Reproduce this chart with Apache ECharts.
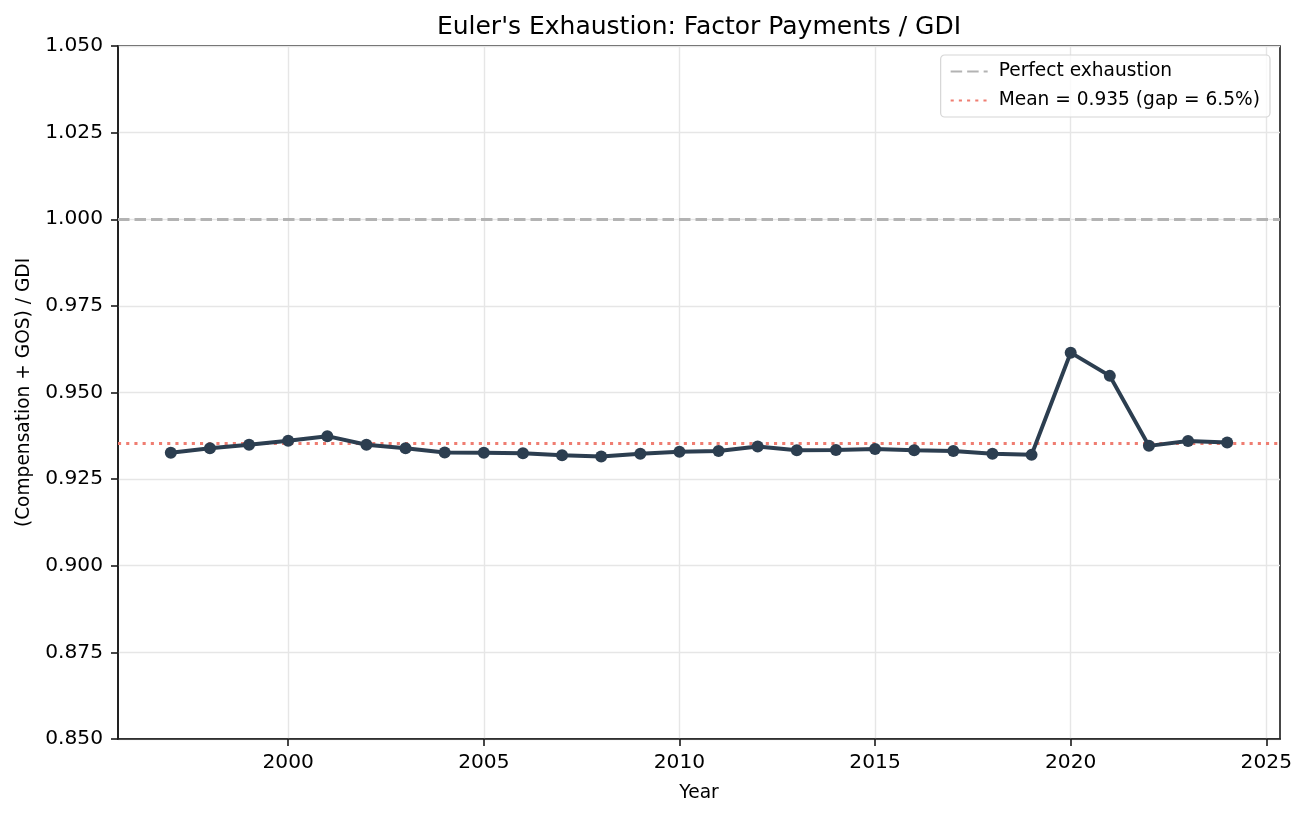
<!DOCTYPE html>
<html>
<head>
<meta charset="utf-8">
<script src="https://cdn.jsdelivr.net/npm/echarts@6/dist/echarts.min.js"></script>
<style>
  html, body { margin: 0; padding: 0; background: #fff; }
  #chart { width: 1307px; height: 817px; }
</style>
</head>
<body>
<div id="chart"></div>
<script>
// data
var years = [1997, 1998, 1999, 2000, 2001, 2002, 2003, 2004, 2005, 2006,
  2007, 2008, 2009, 2010, 2011, 2012, 2013, 2014, 2015, 2016,
  2017, 2018, 2019, 2020, 2021, 2022, 2023, 2024];
var ratio = [0.9326, 0.9339, 0.9349, 0.9361, 0.9374, 0.9349, 0.9339, 0.9327, 0.9326, 0.9325,
  0.9319, 0.9315, 0.9323, 0.9329, 0.9331, 0.9344, 0.9333, 0.9334, 0.9337, 0.9333,
  0.9331, 0.9323, 0.9320, 0.9615, 0.9548, 0.9346, 0.9360, 0.9356];
var perfect = 1.0;
var meanValue = 0.9353;
var xTicks = [2000, 2005, 2010, 2015, 2020, 2025];
var legendNames = ['Perfect exhaustion', 'Mean = 0.935 (gap = 6.5%)'];

var font = 'DejaVu Sans';
var points = years.map(function (y, i) { return [y, ratio[i]]; });

var myChart = echarts.init(document.getElementById('chart'));
var option = {
  backgroundColor: '#fff',
  animation: false,
  textStyle: { fontFamily: font },
  title: {
    text: "Euler's Exhaustion: Factor Payments / GDI",
    left: 699,
    top: 15,
    padding: 0,
    textAlign: 'center',
    textStyle: { fontFamily: font, fontSize: 25, fontWeight: 'normal', color: '#000' }
  },
  legend: {
    data: legendNames,
    orient: 'vertical',
    right: 37,
    top: 55,
    padding: [7, 10, 7, 9],
    itemGap: 10,
    itemWidth: 37,
    itemHeight: 14,
    borderColor: '#d6d6d6',
    borderWidth: 1.2,
    borderRadius: 4,
    backgroundColor: 'rgba(255,255,255,0.8)',
    itemStyle: { color: 'rgba(0,0,0,0)', borderWidth: 0, opacity: 0 },
    textStyle: { fontFamily: font, fontSize: 18.6, color: '#000', padding: [0, 0, 0, 6] }
  },
  grid: {
    left: 118, right: 27, top: 46, bottom: 78,
    outerBoundsMode: 'none',
    containLabel: false,
    show: true, borderColor: '#1a1a1a', borderWidth: 1.6, backgroundColor: '#fff'
  },
  xAxis: {
    type: 'value',
    min: 1995.65,
    max: 2025.35,
    name: 'Year',
    nameLocation: 'middle',
    nameGap: 45,
    nameTextStyle: { fontFamily: font, fontSize: 18.6, color: '#000' },
    axisLine: { show: true, lineStyle: { color: '#1a1a1a', width: 1.6 } },
    axisTick: { show: true, length: 7, customValues: xTicks, lineStyle: { color: '#1a1a1a', width: 1.6 } },
    axisLabel: {
      customValues: xTicks, margin: 14, color: '#000', fontFamily: font, fontSize: 20.2,
      formatter: function (v) { return String(Math.round(v)); }
    },
    splitLine: { show: true, lineStyle: { color: '#e6e6e6', width: 1.4 } }
  },
  yAxis: {
    type: 'value',
    min: 0.85,
    max: 1.05,
    interval: 0.025,
    name: '(Compensation + GOS) / GDI',
    nameLocation: 'middle',
    nameGap: 84,
    nameTextStyle: { fontFamily: font, fontSize: 18.6, color: '#000' },
    axisLine: { show: true, lineStyle: { color: '#1a1a1a', width: 1.6 } },
    axisTick: { show: true, length: 7, lineStyle: { color: '#1a1a1a', width: 1.6 } },
    axisLabel: {
      margin: 15, color: '#000', fontFamily: font, fontSize: 20.2,
      formatter: function (v) { return v.toFixed(3); }
    },
    splitLine: { show: true, lineStyle: { color: '#e6e6e6', width: 1.4 } }
  },
  series: [
    {
      name: legendNames[0],
      type: 'line',
      data: [],
      symbol: 'none',
      lineStyle: { color: '#b3b3b3', width: 3, type: [11.5, 5] },
      itemStyle: { color: '#b3b3b3' },
      markLine: {
        silent: true, symbol: 'none', precision: 4, label: { show: false },
        lineStyle: { color: '#b3b3b3', width: 3, type: [11.5, 5] },
        data: [{ yAxis: perfect }]
      }
    },
    {
      name: legendNames[1],
      type: 'line',
      data: [],
      symbol: 'none',
      lineStyle: { color: '#ef7d71', width: 3, type: [3.1, 5.1] },
      itemStyle: { color: '#ef7d71' },
      markLine: {
        silent: true, symbol: 'none', precision: 4, label: { show: false },
        lineStyle: { color: '#ef7d71', width: 3, type: [3.1, 5.1] },
        data: [{ yAxis: meanValue }]
      }
    },
    {
      name: 'ratio',
      type: 'line',
      data: points,
      symbol: 'circle',
      symbolSize: 12,
      z: 5,
      lineStyle: { color: '#2c3e50', width: 4 },
      itemStyle: { color: '#2c3e50' }
    }
  ]
};

myChart.setOption(option);
</script>
</body>
</html>
